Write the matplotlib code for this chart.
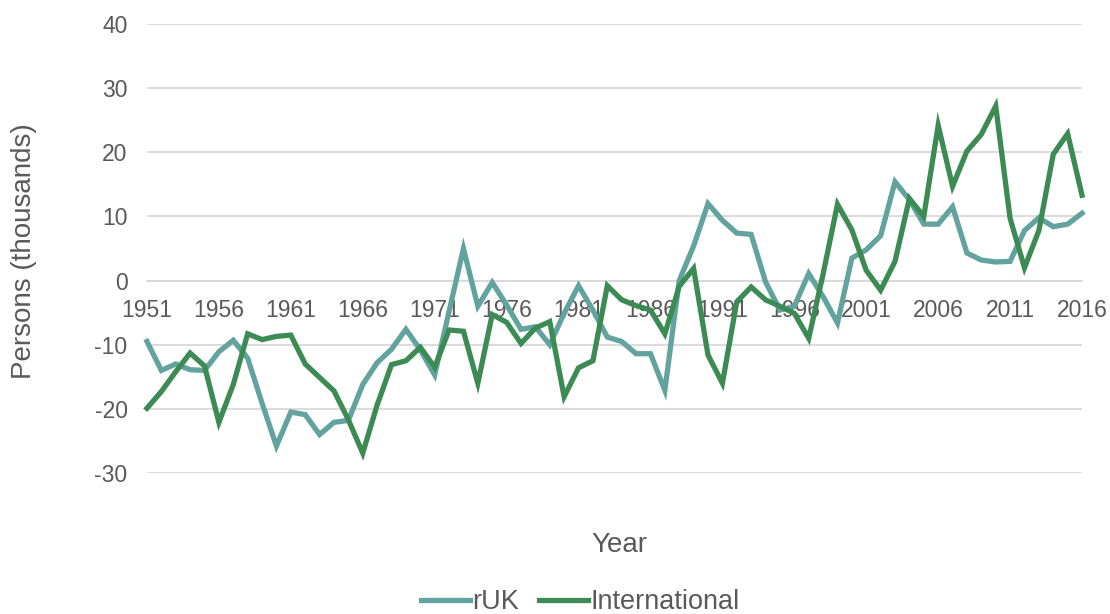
import numpy as np
import matplotlib.pyplot as plt

plt.rcParams['font.family'] = ['Liberation Sans', 'DejaVu Sans']
plt.rcParams['axes.unicode_minus'] = False

years = list(range(1951, 2017))

ruk = [
    -9.5, -14.0, -13.0, -13.9, -14.0, -11.1, -9.3, -12.1, -19.1, -25.8,
    -20.5, -20.9, -24.0, -22.1, -21.8, -16.2, -12.8, -10.7, -7.6, -10.8,
    -14.7, -4.8, 5.0, -4.0, -0.3, -3.8, -7.6, -7.2, -10.0, -5.1,
    -0.8, -4.6, -8.8, -9.5, -11.4, -11.4, -17.1, 0.0, 5.4, 12.0,
    9.4, 7.4, 7.2, -0.2, -4.6, -4.0, 1.1, -2.5, -6.6, 3.5,
    4.8, 7.0, 15.4, 12.6, 8.8, 8.8, 11.5, 4.3, 3.2, 2.9,
    3.0, 7.8, 9.8, 8.4, 8.8, 10.5,
]

international = [
    -19.9, -17.3, -14.2, -11.3, -13.3, -22.1, -16.2, -8.3, -9.2, -8.7,
    -8.5, -13.0, -15.1, -17.2, -21.7, -26.9, -19.4, -13.1, -12.5, -10.4,
    -13.5, -7.7, -7.9, -16.0, -5.3, -6.5, -9.8, -7.4, -6.4, -18.1,
    -13.6, -12.5, -0.8, -3.0, -3.9, -4.6, -8.3, -0.9, 1.9, -11.6,
    -16.0, -3.3, -1.0, -3.0, -4.0, -5.1, -9.0, 1.0, 11.9, 7.9,
    1.6, -1.5, 3.0, 12.8, 10.0, 24.2, 14.7, 20.2, 22.8, 27.2,
    9.7, 2.0, 7.8, 19.7, 22.9, 13.3,
]

x_ticks = list(range(1951, 2017, 5))
y_ticks = list(range(-30, 41, 10))

text_color = '#595959'

fig = plt.figure(figsize=(11.1, 6.14), dpi=100)
ax = fig.add_axes([0.1324, 0.2296, 0.8424, 0.7313])

ax.plot(years, ruk, color='#62A39F', linewidth=3.8, label='rUK',
        clip_on=False, solid_joinstyle='miter', zorder=3)
ax.plot(years, international, color='#3D8B54', linewidth=3.8,
        label='International', clip_on=False, solid_joinstyle='miter', zorder=4)

ax.set_xlim(1951, 2016)
ax.set_ylim(-30, 40)
ax.set_xticks(x_ticks)
ax.set_yticks(y_ticks)

ax.grid(axis='y', color='#D9D9D9', linewidth=1.3, zorder=0)
ax.set_axisbelow(True)

for side in ['left', 'right', 'top']:
    ax.spines[side].set_visible(False)
ax.spines['bottom'].set_position(('data', 0))
ax.spines['bottom'].set_color('#D9D9D9')
ax.spines['bottom'].set_linewidth(1.3)
ax.spines['bottom'].set_zorder(1)

ax.tick_params(axis='x', length=0, pad=13, labelsize=16.5, labelcolor=text_color)
ax.tick_params(axis='y', length=0, pad=14, labelsize=16.5, labelcolor=text_color)

fig.text(0.0216, 0.591, 'Persons (thousands)', rotation=90, ha='center',
         va='center', fontsize=20, color=text_color)
fig.text(0.558, 0.112, 'Year', ha='center', va='center', fontsize=20,
         color=text_color)

fig.legend(loc='center', bbox_to_anchor=(0.523, 0.019), ncol=2, frameon=False,
           fontsize=19.5, handlelength=1.8, handletextpad=0.1,
           columnspacing=0.75, labelcolor=text_color)

fig.savefig('out.png', dpi=100)
